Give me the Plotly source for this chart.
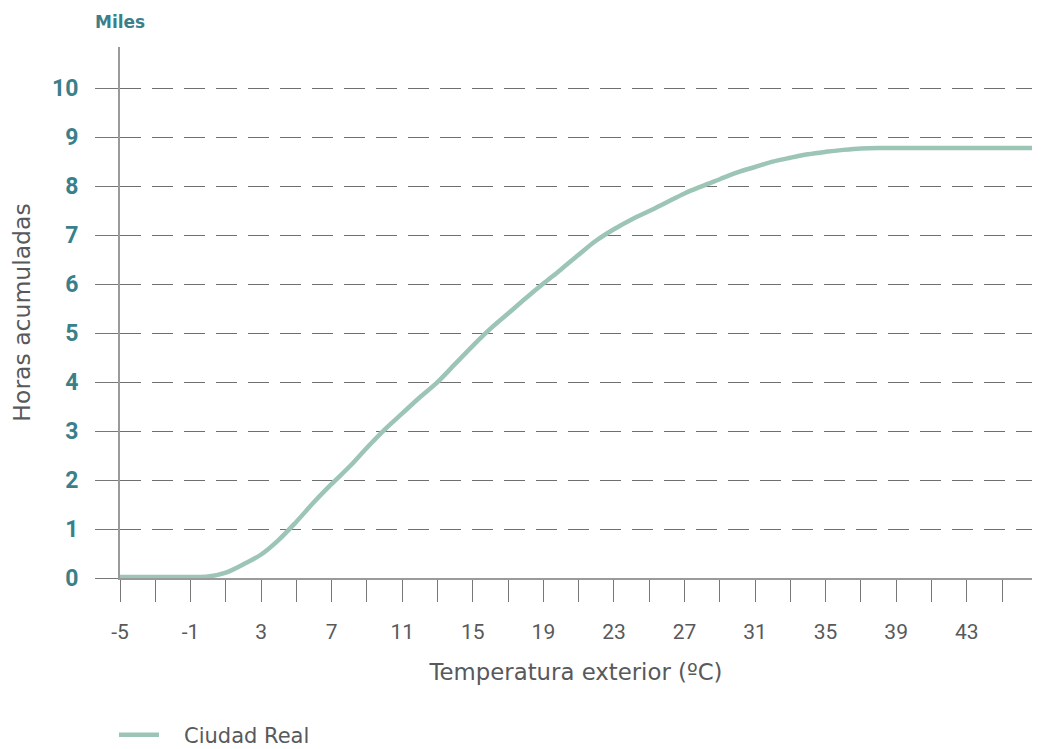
import plotly.graph_objects as go

temps = list(range(-5, 48))
horas = [0.02, 0.02, 0.02, 0.02, 0.02, 0.03, 0.11, 0.28, 0.48, 0.78,
         1.15, 1.55, 1.92, 2.27, 2.66, 3.03, 3.36, 3.69, 4.0, 4.37,
         4.74, 5.09, 5.40, 5.71, 6.01, 6.30, 6.60, 6.89, 7.12, 7.32,
         7.49, 7.67, 7.85, 8.00, 8.14, 8.28, 8.39, 8.50, 8.58, 8.65,
         8.70, 8.74, 8.77, 8.78, 8.78, 8.78, 8.78, 8.78, 8.78, 8.78,
         8.78, 8.78, 8.78]
serie = "Ciudad Real"
y_ticks = list(range(0, 11))
x_ticks = list(range(-5, 46, 4))

teal = "#3b7f8b"
grey_txt = "#58595b"
line_col = "#9cc5b6"
num_font = "Roboto"
txt_font = "DejaVu Sans"

fig = go.Figure()
fig.add_trace(go.Scatter(
    x=temps, y=horas, mode="lines", name="\u00a0\u00a0\u00a0" + serie,
    line=dict(color=line_col, width=4.5, shape="spline", smoothing=1.0),
))

# page body has an 8px margin; the figure is offset accordingly
fig.update_layout(
    width=1040, height=741,
    margin=dict(l=112, r=16, t=39, b=171, autoexpand=False),
    paper_bgcolor="white", plot_bgcolor="white",
    font=dict(family=txt_font, color=grey_txt),
    showlegend=True,
    legend=dict(orientation="h", x=-0.0066, xanchor="left", y=-0.296, yanchor="middle",
                font=dict(size=21, color=grey_txt, family=txt_font),
                itemwidth=40, traceorder="normal"),
    xaxis=dict(
        range=[-5, 46.7], showgrid=False, zeroline=False, automargin=False,
        showline=True, linecolor="#9a9a9a", linewidth=2,
        tickmode="array", tickvals=x_ticks, ticktext=[str(v) for v in x_ticks],
        ticks="outside", ticklen=22, tickcolor="#777", tickwidth=1.3,
        ticklabelstandoff=12,
        minor=dict(dtick=2, tick0=-5, ticks="outside", ticklen=22, tickcolor="#777",
                   tickwidth=1.3, showgrid=False),
        tickfont=dict(size=21, color=grey_txt, family=num_font),
        title=dict(text="Temperatura exterior (ºC)", standoff=21,
                   font=dict(size=22.8, color=grey_txt, family=txt_font)),
    ),
    yaxis=dict(
        range=[0, 10.84], zeroline=False, automargin=False,
        showline=True, linecolor="#9a9a9a", linewidth=2,
        tickmode="array", tickvals=y_ticks, ticktext=[str(v) for v in y_ticks],
        ticks="outside", ticklen=23, tickcolor="#777", tickwidth=1.3,
        ticklabelstandoff=12,
        showgrid=True, gridcolor="#6f6f6f", gridwidth=1.3, griddash="21px,11px",
        tickfont=dict(size=23, color=teal, family=num_font, weight="bold"),
        title=dict(text="Horas acumuladas", standoff=16,
                   font=dict(size=23.5, color=grey_txt, family=txt_font)),
    ),
    annotations=[dict(
        text="<b>Miles</b>", xref="paper", yref="paper", x=0, y=1 + 25/531,
        xanchor="center", yanchor="middle", showarrow=False,
        font=dict(size=17, color=teal, family=txt_font),
    )],
)

fig.write_html("out.html")
